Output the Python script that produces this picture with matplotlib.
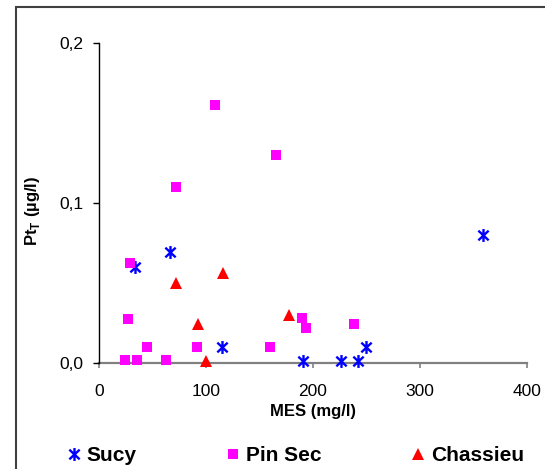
import matplotlib
matplotlib.use("Agg")
import matplotlib.pyplot as plt
from matplotlib.path import Path
from matplotlib.patches import Rectangle

plt.rcParams['font.family'] = ['Liberation Sans', 'DejaVu Sans']
plt.rcParams['mathtext.fontset'] = 'custom'
plt.rcParams['mathtext.rm'] = 'Liberation Sans'
plt.rcParams['mathtext.bf'] = 'Liberation Sans:bold'

# data
sucy_mes = [33, 66, 115, 191, 226, 242, 250, 359]
sucy_pt = [0.060, 0.069, 0.010, 0.001, 0.001, 0.001, 0.010, 0.080]

pinsec_mes = [29, 72, 108, 165, 27, 45, 91, 160, 190, 193, 238, 24, 35, 62]
pinsec_pt = [0.062, 0.110, 0.161, 0.130, 0.027, 0.010, 0.010, 0.010,
             0.028, 0.0215, 0.024, 0.0017, 0.0017, 0.0017]

chassieu_mes = [72, 116, 92, 178, 100]
chassieu_pt = [0.050, 0.056, 0.024, 0.030, 0.001]

x_ticks = [0, 100, 200, 300, 400]
x_labels = ["0", "100", "200", "300", "400"]
y_ticks = [0.0, 0.1, 0.2]
y_labels = ["0,0", "0,1", "0,2"]

# Excel style asterisk marker: vertical line plus an X
star = Path([(0, -1), (0, 1), (-0.8, -0.75), (0.8, 0.75), (-0.8, 0.75), (0.8, -0.75)],
            [Path.MOVETO, Path.LINETO, Path.MOVETO, Path.LINETO, Path.MOVETO, Path.LINETO])

fig = plt.figure(figsize=(5.45, 4.69), dpi=100)
ax = fig.add_axes([0.1822, 0.2267, 0.7842, 0.6823])

h1, = ax.plot(sucy_mes, sucy_pt, linestyle='none', marker=star, markersize=9.3,
              markerfacecolor='none', markeredgecolor='#0000FF', markeredgewidth=1.7,
              label='Sucy', clip_on=False)
h2, = ax.plot(pinsec_mes, pinsec_pt, linestyle='none', marker='s', markersize=7.6,
              color='#FF00FF', markeredgewidth=0, label='Pin Sec', clip_on=False)
h3, = ax.plot(chassieu_mes, chassieu_pt, linestyle='none', marker='^', markersize=8.6,
              color='#FF0000', markeredgewidth=0, label='Chassieu', clip_on=False)

ax.set_xlim(0, 400)
ax.set_ylim(0, 0.2)
ax.set_xticks(x_ticks)
ax.set_xticklabels(x_labels)
ax.set_yticks(y_ticks)
ax.set_yticklabels(y_labels)

ax.spines['top'].set_visible(False)
ax.spines['right'].set_visible(False)
ax.spines['left'].set_color('black')
ax.spines['left'].set_linewidth(1.0)
ax.spines['bottom'].set_color('#808080')
ax.spines['bottom'].set_linewidth(1.6)
ax.spines['bottom'].set_zorder(0)
ax.tick_params(axis='x', direction='out', length=3.6, width=1.2, color='#808080',
               labelsize=12.5, pad=11.5)
ax.tick_params(axis='y', direction='out', length=4.3, width=1.0, color='black',
               labelsize=12.5, pad=7)

ax.set_xlabel("MES (mg/l)", fontsize=12, fontweight='bold')
ax.xaxis.set_label_coords(0.5, -0.129)
ax.set_ylabel(r"Pt$_{\mathbf{T}}$ (µg/l)", fontsize=12, fontweight='bold')
ax.yaxis.set_label_coords(-0.134, 0.474)

fig.legend(handles=[h1, h2, h3], loc='center', bbox_to_anchor=(0.542, 0.029),
           ncol=3, frameon=False, prop={'weight': 'bold', 'size': 15},
           handlelength=0.7, handletextpad=0.25, columnspacing=4.3)

# outer chart frame (only left and top edges fall inside the image)
fig.patches.append(Rectangle((16 / 545, -0.2), 1.5, 1.2 - 7 / 469, transform=fig.transFigure,
                             fill=False, edgecolor='#404040', linewidth=1.5))

fig.savefig("out.png", dpi=100)
